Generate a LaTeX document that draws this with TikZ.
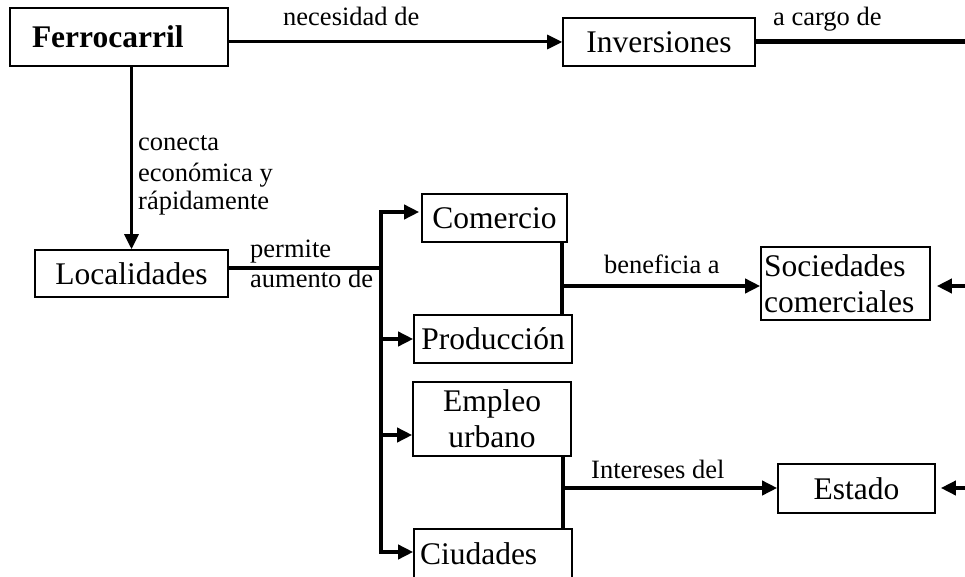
\documentclass[tikz,border=0pt]{standalone}
\usepackage{fontspec}
\setmainfont{Liberation Serif}
\usetikzlibrary{arrows.meta}
\newcommand\nfont{\fontsize{31.5}{36}\selectfont}
\newcommand\lfont{\fontsize{26.5}{29.5}\selectfont}
\begin{document}
\begin{tikzpicture}[x=1pt,y=-1pt,
  box/.style={draw, line width=1.6pt, inner sep=0pt, font=\nfont, align=center},
  conn/.style={line width=3pt},
  bus/.style={line width=3.6pt},
  arr/.style={-{Triangle[length=15pt,width=14pt]}},
  lab/.style={font=\lfont, inner sep=0pt, anchor=base west}]
\useasboundingbox (0,0) rectangle (965,577);

% boxes
\node[box, font=\nfont\bfseries, minimum width=218pt, minimum height=58pt,
      text width=174pt, align=left, inner xsep=22pt] (fer) at (119,37) {Ferrocarril};
\node[box, minimum width=192pt, minimum height=48pt] (inv) at (659,42) {Inversiones};
\node[box, minimum width=193pt, minimum height=47pt] (loc) at (131.5,273.5) {Localidades};
\node[box, minimum width=145pt, minimum height=48pt] (com) at (494.5,218) {Comercio};
\node[box, minimum width=158pt, minimum height=48pt] (pro) at (493,339) {Producción};
\node[box, minimum width=158pt, minimum height=74pt] (emp) at (492,419) {Empleo\\urbano};
\node[box, minimum width=158pt, minimum height=49pt, text width=146pt,
      align=left, inner xsep=6pt] (ciu) at (493,553.5) {Ciudades};
\node[box, minimum width=169pt, minimum height=73pt, text width=163pt,
      align=left, inner xsep=3pt] (soc) at (845.5,283.5) {Sociedades\\comerciales};
\node[box, minimum width=157pt, minimum height=49pt] (est) at (856.5,488.5) {Estado};

% free ends and junctions
\coordinate (ir) at (965,42);
\coordinate (bt) at (381,212);
\coordinate (bm) at (381,268);
\coordinate (bp) at (381,339);
\coordinate (be) at (381,435);
\coordinate (bb) at (381,552);
\coordinate (v1) at (562,286);
\coordinate (v2) at (563,488);
\coordinate (sr) at (965,286);
\coordinate (er) at (965,488);

% top row
\draw[conn, arr] (fer.east |- inv.west) -- (inv.west);
\node[lab] at (283,26) {necesidad de};
\draw[line width=5pt] (inv.east) -- (ir);
\node[lab] at (773,26) {a cargo de};

% Ferrocarril -> Localidades
\draw[conn, arr] (loc.north |- fer.south) -- (loc.north);
\node[lab] at (138,151) {conecta};
\node[lab] at (138,182) {económica y};
\node[lab] at (138,210) {rápidamente};

% Localidades -> bus
\draw[bus] (loc.east |- bm) -- (bm);
\node[lab] at (250,257) {permite};
\node[lab] at (250,287) {aumento de};
\draw[bus] (bt) -- (bb);
\draw[bus, arr, line cap=butt] ([xshift=-1.8pt]bt) -- ([xshift=-2pt]bt -| com.west);
\draw[bus, arr] (bp) -- (bp -| pro.west);
\draw[bus, arr] (be) -- (be -| emp.west);
\draw[bus, arr] ([xshift=-1.8pt]bb) -- (bb -| ciu.west);

% Comercio / Produccion -> Sociedades
\draw[bus] (v1 |- com.south) -- (v1 |- pro.north);
\draw[bus, arr] (v1) -- (v1 -| soc.west);
\node[lab] at (604,273) {beneficia a};
\draw[bus, arr, shorten >=6pt] (sr) -- (sr -| soc.east);

% Empleo / Ciudades -> Estado
\draw[bus] (v2 |- emp.south) -- (v2 |- ciu.north);
\draw[bus, arr] (v2) -- (v2 -| est.west);
\node[lab] at (591,478) {Intereses del};
\draw[bus, arr, shorten >=5pt] (er) -- (er -| est.east);
\end{tikzpicture}
\end{document}
